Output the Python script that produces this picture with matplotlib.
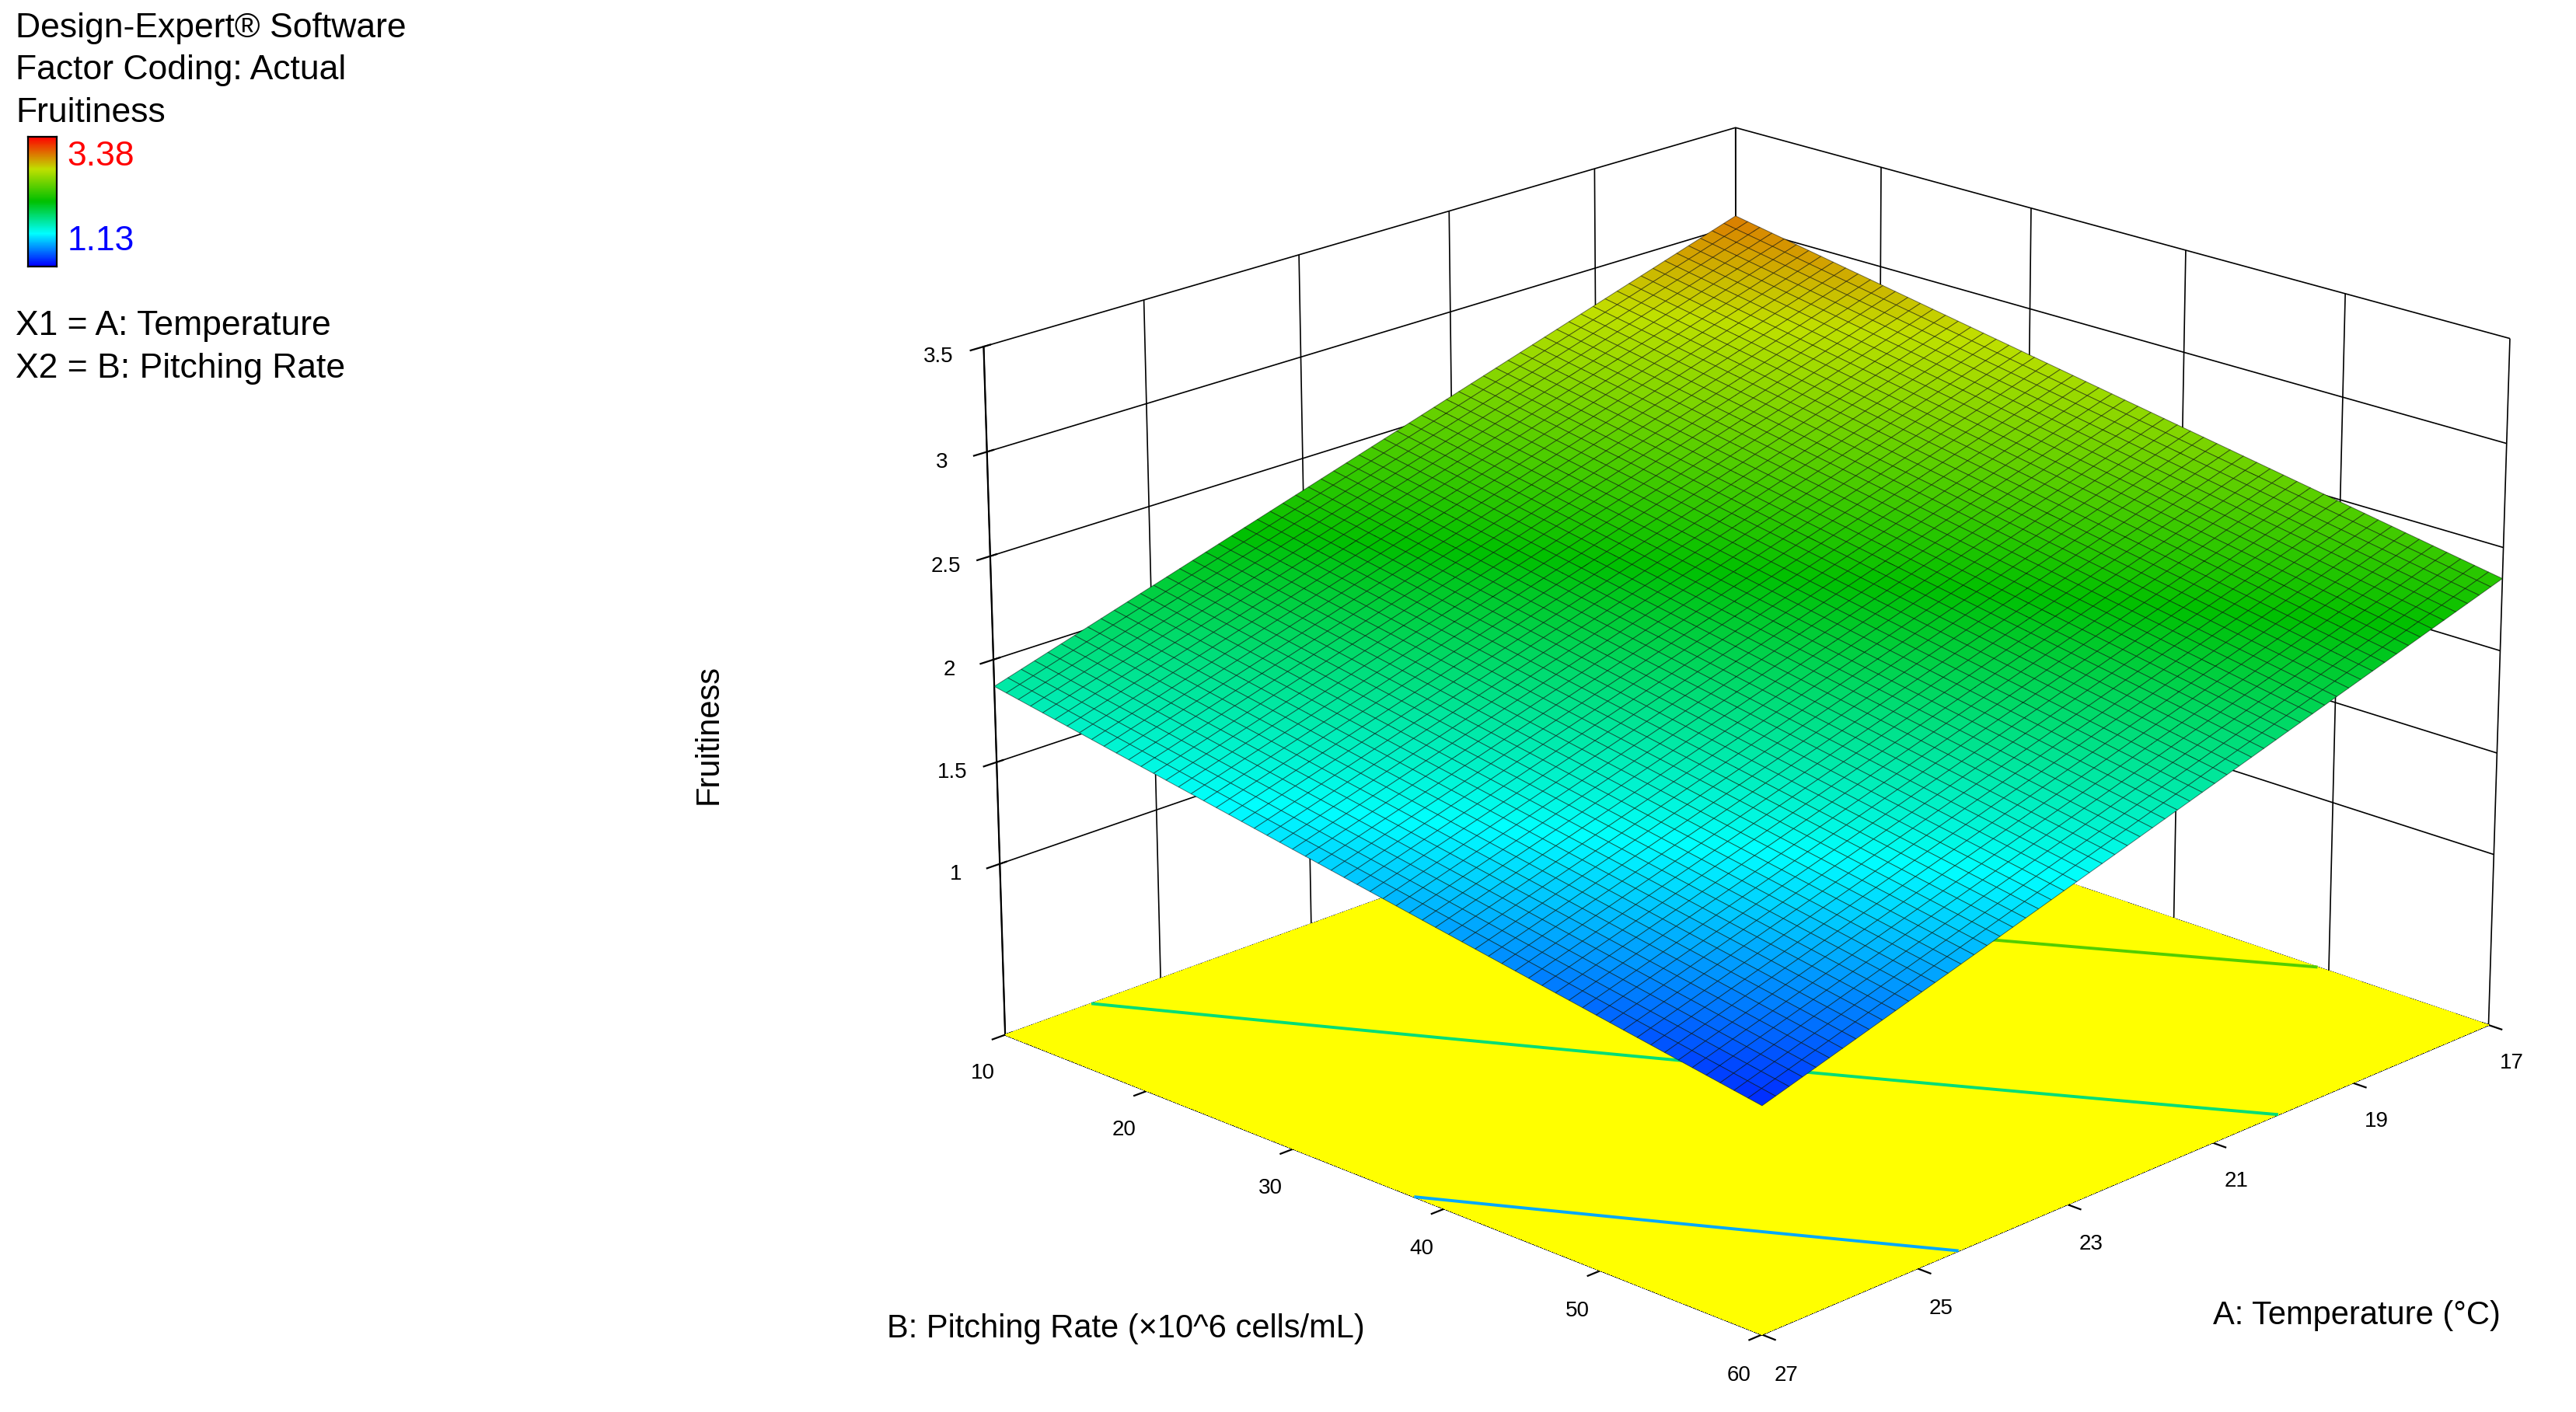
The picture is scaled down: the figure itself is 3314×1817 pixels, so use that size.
import numpy as np
import matplotlib
matplotlib.use("Agg")
import matplotlib.pyplot as plt
from matplotlib.colors import LinearSegmentedColormap

# Data: factor ranges and coded model coefficients (read from surface corners)
temp_ticks = [17, 19, 21, 23, 25, 27]
rate_ticks = [10, 20, 30, 40, 50, 60]
z_ticks = [1, 1.5, 2, 2.5, 3, 3.5]
b0, bA, bB, bAB = 2.12, -0.58, -0.34, 0.01
zmin, zmax = 1.13, 3.38

plt.rcParams['font.family'] = ['Liberation Sans', 'DejaVu Sans']
fig = plt.figure(figsize=(16.57, 9.085), dpi=200)
ax = fig.add_axes([0.26, -0.08, 0.82, 1.15], projection='3d')
ax.computed_zorder = False
ax.set_box_aspect((4, 4, 2.75))

A = np.linspace(17, 27, 60)
B = np.linspace(10, 60, 60)
AA, BB = np.meshgrid(A, B)
x1 = (AA - 22) / 5
x2 = (BB - 35) / 25
Z = b0 + bA * x1 + bB * x2 + bAB * x1 * x2

cmap = LinearSegmentedColormap.from_list('de', ['#0000ff', '#00ffff', '#00c000', '#c0e000', '#ff0000'])
norm = plt.Normalize(zmin, zmax)
off = 0.15
ax.contourf(AA, BB, Z, levels=[0, 5], colors=['#ffff00'], zdir='z', offset=off, zorder=1)
ax.contour(AA, BB, Z, levels=[1.5, 2.0, 2.5, 3.0], zdir='z', offset=off,
           cmap=cmap, norm=norm, linewidths=1.4, zorder=2)
ax.plot_surface(AA, BB, Z, facecolors=cmap(norm(Z)), edgecolor=(0, 0, 0, 0.5),
                linewidth=0.35, rstride=1, cstride=1, shade=False, zorder=3)

ax.set_xlim(17, 27); ax.set_ylim(10, 60); ax.set_zlim(off, 3.5)
ax.set_xticks(temp_ticks); ax.set_yticks(rate_ticks); ax.set_zticks(z_ticks)
ax.set_zticklabels(['1', '1.5', '2', '2.5', '3', '3.5'])
for a in (ax.xaxis, ax.yaxis, ax.zaxis):
    a.set_pane_color((1, 1, 1, 1))
    a._axinfo['grid']['color'] = (0, 0, 0, 1)
    a._axinfo['grid']['linewidth'] = 0.6
ax.tick_params(labelsize=10)
ax.view_init(elev=20, azim=44)

fs = 16
fig.text(0.915, 0.068, 'A: Temperature (°C)', fontsize=15, ha='center', va='center')
fig.text(0.437, 0.059, 'B: Pitching Rate (×10^6 cells/mL)', fontsize=15, ha='center', va='center')
fig.text(0.275, 0.48, 'Fruitiness', fontsize=15, ha='center', va='center', rotation=90)

fig.text(0.006, 0.980, 'Design-Expert® Software', fontsize=fs, va='center')
fig.text(0.006, 0.950, 'Factor Coding: Actual', fontsize=fs, va='center')
fig.text(0.006, 0.920, 'Fruitiness', fontsize=fs, va='center')
cax = fig.add_axes([0.011, 0.811, 0.011, 0.092])
cax.imshow(np.linspace(1, 0, 100)[:, None], aspect='auto', cmap=cmap)
cax.set_xticks([]); cax.set_yticks([])
fig.text(0.026, 0.889, f'{zmax:.2f}', color='red', fontsize=fs, va='center')
fig.text(0.026, 0.829, f'{zmin:.2f}', color='blue', fontsize=fs, va='center')
fig.text(0.006, 0.769, 'X1 = A: Temperature', fontsize=fs, va='center')
fig.text(0.006, 0.739, 'X2 = B: Pitching Rate', fontsize=fs, va='center')
fig.savefig('out.png', dpi=200)
